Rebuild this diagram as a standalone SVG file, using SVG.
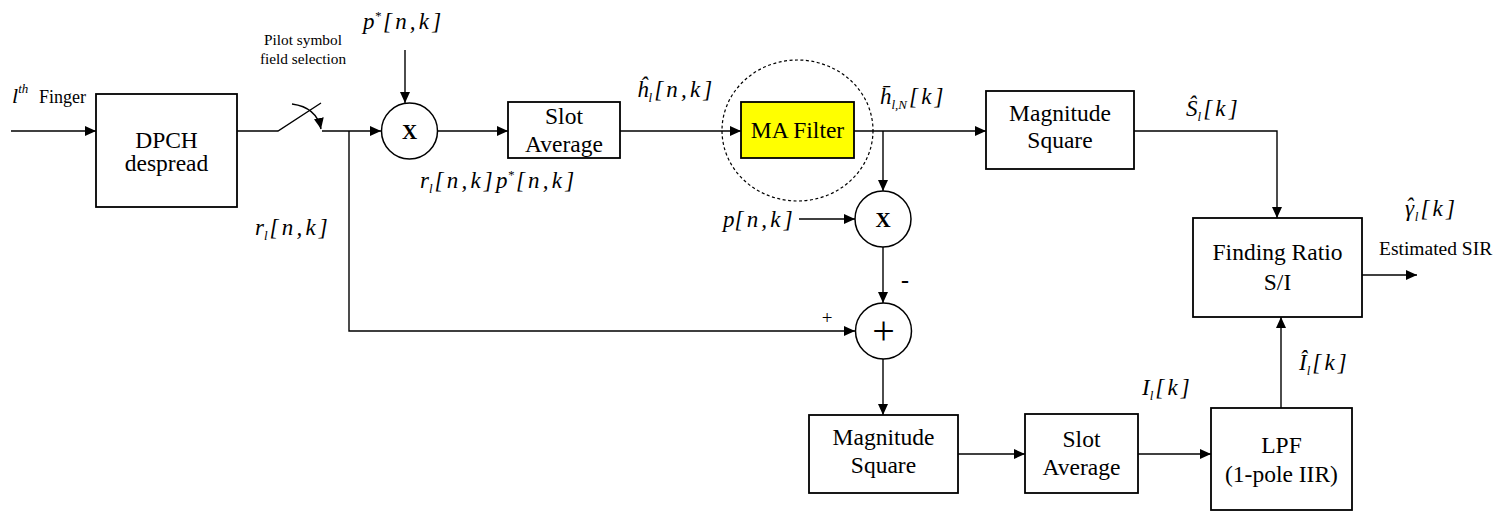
<svg xmlns="http://www.w3.org/2000/svg" width="1501" height="512" viewBox="0 0 1501 512">
  <style>
    .box { fill: #fff; stroke: #000; stroke-width: 1.8; }
    .ma { fill: #ffff00; stroke: #000; stroke-width: 1.8; }
    .op { fill: #fff; stroke: #000; stroke-width: 1.5; }
    .wire { fill: none; stroke: #000; stroke-width: 1.4; }
    .arr { fill: none; stroke: #000; stroke-width: 1.4; marker-end: url(#ah); }
    .lbl { text-anchor: middle; }
    .m { font-style: italic; }
    .br { letter-spacing: 3.2px; }
    .sym { font-weight: bold; text-anchor: middle; }
  </style>
  <defs>
    <marker id="ah" viewBox="0 0 11 10" refX="11" refY="5" markerWidth="11" markerHeight="10" markerUnits="userSpaceOnUse" orient="auto">
      <path d="M0,0 L11,5 L0,10 z" fill="#000"/>
    </marker>
  </defs>
  <rect width="1501" height="512" fill="#fff"/>

  <!-- connectors -->
  <g id="connectors">
    <line class="arr" x1="11" y1="131" x2="96" y2="131"/>
    <!-- pilot field selection switch -->
    <polyline class="wire" points="237,131 278,131 321,103"/>
    <path class="arr" d="M292,104 C307,106 318,114 321,129"/>
    <line class="arr" x1="322" y1="131" x2="381" y2="131"/>
    <line class="arr" x1="405" y1="50" x2="405" y2="103"/>
    <line class="arr" x1="437" y1="131" x2="508" y2="131"/>
    <line class="arr" x1="620" y1="131" x2="741" y2="131"/>
    <line class="arr" x1="854" y1="131" x2="986" y2="131"/>
    <line class="arr" x1="883" y1="131" x2="883" y2="191"/>
    <line class="arr" x1="799" y1="219" x2="855" y2="219"/>
    <line class="arr" x1="883" y1="247" x2="883" y2="303"/>
    <polyline class="arr" points="349,131 349,331 855,331"/>
    <line class="arr" x1="883" y1="359" x2="883" y2="415"/>
    <line class="arr" x1="958" y1="454" x2="1025" y2="454"/>
    <line class="arr" x1="1138" y1="454" x2="1211" y2="454"/>
    <line class="arr" x1="1281" y1="408" x2="1281" y2="317"/>
    <polyline class="arr" points="1134,131 1277,131 1277,218"/>
    <line class="arr" x1="1362" y1="275" x2="1417" y2="275"/>
  </g>

  <g font-family="Liberation Serif, serif" fill="#000">
  <!-- blocks -->
  <g id="dpch" font-size="23.5">
    <rect class="box" x="96" y="94" width="141" height="113"/>
    <text class="lbl" x="166.5" y="148">DPCH</text>
    <text class="lbl" x="166.5" y="171">despread</text>
  </g>
  <g id="mult1" font-size="21">
    <circle class="op" cx="409.5" cy="131" r="28"/>
    <text class="sym" x="409.5" y="139">X</text>
  </g>
  <g id="slotavg1" font-size="23.5">
    <rect class="box" x="508" y="102" width="112" height="56"/>
    <text class="lbl" x="564" y="124">Slot</text>
    <text class="lbl" x="564" y="152">Average</text>
  </g>
  <g id="mafilter" font-size="23.5">
    <ellipse cx="797.5" cy="130.5" rx="75.5" ry="70.5" fill="none" stroke="#000" stroke-width="1.2" stroke-dasharray="3,2.5"/>
    <rect class="ma" x="741" y="102" width="113" height="56"/>
    <text class="lbl" x="797.5" y="138">MA Filter</text>
  </g>
  <g id="magsq1" font-size="23.5">
    <rect class="box" x="986" y="91" width="148" height="78"/>
    <text class="lbl" x="1060" y="121">Magnitude</text>
    <text class="lbl" x="1060" y="148">Square</text>
  </g>
  <g id="mult2" font-size="21">
    <circle class="op" cx="883" cy="219" r="28"/>
    <text class="sym" x="883" y="227">X</text>
  </g>
  <g id="adder">
    <circle class="op" cx="883.5" cy="331" r="28"/>
    <text x="883.5" y="344" font-size="40" text-anchor="middle">+</text>
  </g>
  <g id="ratio" font-size="23.5">
    <rect class="box" x="1193" y="218" width="169" height="99"/>
    <text class="lbl" x="1277.5" y="260">Finding Ratio</text>
    <text class="lbl" x="1277.5" y="290">S/I</text>
  </g>
  <g id="magsq2" font-size="23.5">
    <rect class="box" x="809" y="415" width="149" height="78"/>
    <text class="lbl" x="883.5" y="445">Magnitude</text>
    <text class="lbl" x="883.5" y="473">Square</text>
  </g>
  <g id="slotavg2" font-size="23.5">
    <rect class="box" x="1025" y="414" width="113" height="79"/>
    <text class="lbl" x="1081.5" y="447">Slot</text>
    <text class="lbl" x="1081.5" y="475">Average</text>
  </g>
  <g id="lpf" font-size="23.5">
    <rect class="box" x="1211" y="408" width="141" height="102"/>
    <text class="lbl" x="1281.5" y="453">LPF</text>
    <text class="lbl" x="1281.5" y="482">(1-pole IIR)</text>
  </g>

  <!-- signal labels -->
  <g id="labels" font-size="23">
    <text class="m" x="12" y="103" font-size="22">l<tspan font-size="13" dy="-10">th</tspan></text>
    <text x="39" y="103" font-size="18">Finger</text>
    <text x="303" y="45" font-size="15.3" text-anchor="middle">Pilot symbol</text>
    <text x="303" y="64" font-size="15.3" text-anchor="middle">field selection</text>
    <text class="m" x="363" y="29">p<tspan font-size="13" dy="-9">*</tspan><tspan class="br" dy="9" dx="2">[n,k]</tspan></text>
    <text class="m" x="637" y="97">ĥ<tspan font-size="13" dy="5">l</tspan><tspan class="br" dy="-5" dx="2">[n,k]</tspan></text>
    <text class="m" x="420" y="188">r<tspan font-size="13" dy="5">l</tspan><tspan class="br" dy="-5" dx="2">[n,k]</tspan>p<tspan font-size="13" dy="-9">*</tspan><tspan class="br" dy="9" dx="2">[n,k]</tspan></text>
    <text class="m" x="255" y="235">r<tspan font-size="13" dy="5">l</tspan><tspan class="br" dy="-5" dx="2">[n,k]</tspan></text>
    <text class="m" x="880" y="104">h̄<tspan font-size="13" dy="5">l,N</tspan><tspan class="br" dy="-5" dx="2">[k]</tspan></text>
    <text class="m" x="723" y="227">p<tspan class="br">[n,k]</tspan></text>
    <text x="905" y="288" font-size="24" font-weight="bold" text-anchor="middle">-</text>
    <text x="827" y="324" font-size="19" text-anchor="middle">+</text>
    <text class="m" x="1186" y="116">Ŝ<tspan font-size="13" dy="5">l</tspan><tspan class="br" dy="-5" dx="2">[k]</tspan></text>
    <text class="m" x="1405" y="216">γ<tspan dx="-8.5" dy="-2">ˆ</tspan><tspan font-size="13" dx="1.5" dy="7">l</tspan><tspan class="br" dy="-5" dx="2">[k]</tspan></text>
    <text x="1379" y="255" font-size="19.5">Estimated SIR</text>
    <text class="m" x="1299" y="370">Î<tspan font-size="13" dy="5">l</tspan><tspan class="br" dy="-5" dx="2">[k]</tspan></text>
    <text class="m" x="1142" y="395">I<tspan font-size="13" dy="5">l</tspan><tspan class="br" dy="-5" dx="2">[k]</tspan></text>
  </g>
  </g>
</svg>
